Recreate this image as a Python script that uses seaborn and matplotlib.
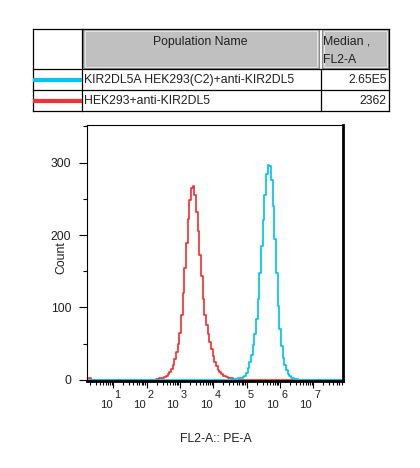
import numpy as np
import matplotlib
matplotlib.use("Agg")
import matplotlib.pyplot as plt
import matplotlib.transforms as mtransforms
from matplotlib.patches import Rectangle
from matplotlib.ticker import LogLocator, NullFormatter, MultipleLocator
import seaborn as sns

# ---------------- data ----------------
pop_names = ["KIR2DL5A HEK293(C2)+anti-KIR2DL5", "HEK293+anti-KIR2DL5"]
medians = ["2.65E5", "2362"]
colors = ["#00c4f2", "#f23232"]
decades = [1, 2, 3, 4, 5, 6, 7]
y_ticks = [0, 100, 200, 300]

bin_step = 0.05          # decades per histogram bin
grid_first = 0.25        # first bin centre (log10)
grid_last = 7.85

red_blip_start = 0.25
red_blip = [3, 2]
red_start = 2.30
red_counts = [1, 1, 2, 2, 3, 4, 6, 8, 11, 15, 21, 29, 38, 50, 65, 90, 120, 155,
              189, 222, 249, 265, 268, 256, 232, 205, 173, 143, 112, 90, 76, 64,
              52, 42, 33, 25, 19, 14, 11, 8, 6, 5, 4, 3, 2, 2, 1]
blue_start = 4.60
blue_counts = [1, 1, 1, 2, 2, 3, 4, 6, 10, 17, 25, 35, 48, 64, 84, 112, 148, 185,
               221, 256, 285, 297, 295, 276, 240, 194, 148, 102, 70, 47, 30, 20,
               13, 8, 5, 3, 2, 1, 1]

# ---------------- build bins ----------------
centers = np.round(np.arange(grid_first, grid_last + 1e-9, bin_step), 2)

def place(segments):
    arr = np.zeros(len(centers))
    for start, vals in segments:
        i0 = int(round((start - grid_first) / bin_step))
        arr[i0:i0 + len(vals)] = vals
    return arr

red_full = place([(red_blip_start, red_blip), (red_start, red_counts)])
blue_full = place([(blue_start, blue_counts)])

# ---------------- style ----------------
sns.set_theme(style="ticks")
plt.rcParams["font.family"] = ["Liberation Sans", "DejaVu Sans"]

W, H = 420, 468
fig = plt.figure(figsize=(W / 100, H / 100), dpi=100)
fig.patch.set_facecolor("white")

ax_l, ax_r, ax_t, ax_b = 86.7, 343.0, 125.0, 381.0
ax = fig.add_axes([ax_l / W, 1 - ax_b / H, (ax_r - ax_l) / W, (ax_b - ax_t) / H])

xs = 10 ** centers
sns.lineplot(x=xs, y=red_full, ax=ax, color=colors[1], lw=1.25,
             drawstyle="steps-mid", estimator=None, legend=False)
sns.lineplot(x=xs, y=blue_full, ax=ax, color=colors[0], lw=1.25,
             drawstyle="steps-mid", estimator=None, legend=False)

ax.set_xscale("log")
ax.set_xlim(10 ** 0.2, 10 ** 7.89)
ax.set_ylim(-1.5, 352)

ax.xaxis.set_major_locator(LogLocator(base=10, numticks=20))
ax.xaxis.set_minor_locator(LogLocator(base=10, subs=np.arange(2, 10), numticks=50))
ax.xaxis.set_major_formatter(NullFormatter())
ax.xaxis.set_minor_formatter(NullFormatter())
ax.set_yticks(y_ticks)
ax.yaxis.set_minor_locator(MultipleLocator(50))

ax.tick_params(axis="both", which="major", direction="out", length=5, width=0.8,
               color="black", labelsize=8.8, labelcolor="#202020", pad=5)
ax.tick_params(axis="both", which="minor", direction="out", length=3, width=0.8,
               color="black")
ax.tick_params(axis="y", which="major", length=6)

for side in ["left", "top"]:
    ax.spines[side].set_linewidth(0.8)
    ax.spines[side].set_color("black")
for side in ["right", "bottom"]:
    ax.spines[side].set_linewidth(2.0)
    ax.spines[side].set_color("black")
ax.set_xlabel("")
ax.set_ylabel("")

# decade labels: "10" plus near full-size superscript
trans = mtransforms.blended_transform_factory(ax.transData, ax.transAxes)
for n in decades:
    base_t = mtransforms.offset_copy(trans, fig=fig, x=-1.0, y=-18.5, units="dots")
    ax.text(10 ** n, 0, "10", transform=base_t, ha="right", va="top",
            fontsize=8.2, color="#202020")
    sup_t = mtransforms.offset_copy(trans, fig=fig, x=1.0, y=-9.0, units="dots")
    ax.text(10 ** n, 0, str(n), transform=sup_t, ha="left", va="top",
            fontsize=7.8, color="#202020")

fig.text(61 / W, 1 - 258 / H, "Count", rotation=90, ha="center", va="center",
         fontsize=8.8, color="#202020")
fig.text(216 / W, 1 - 439 / H, "FL2-A:: PE-A", ha="center", va="center",
         fontsize=8.8, color="#202020")

# ---------------- table ----------------
tab = fig.add_axes([0, 0, 1, 1], zorder=-1)
tab.set_xlim(0, W)
tab.set_ylim(H, 0)
tab.axis("off")

x0, x1, x2, x3 = 32.5, 81.7, 321.0, 389.0
y0, y1, y2, y3 = 28.5, 69.3, 90.0, 111.0

# header gray cells with bevel
for (cx0, cx1) in [(83.0, 318.5), (322.0, 388.0)]:
    tab.add_patch(Rectangle((cx0, y0 + 0.8), cx1 - cx0, y1 - y0 - 1.8,
                            facecolor="#c0c0c0", edgecolor="#8c8c8c", lw=0.8))
    tab.add_patch(Rectangle((cx0 + 1.5, y0 + 2.3), cx1 - cx0 - 3, y1 - y0 - 4.8,
                            facecolor="none", edgecolor="#e6e6e6", lw=0.7))

lk = dict(color="black", lw=0.9, solid_capstyle="projecting")
tab.plot([x0, x3], [y0, y0], **lk)
tab.plot([x0, x3], [y3, y3], **lk)
tab.plot([x0, x3], [y1, y1], **lk)
tab.plot([x0, x3], [y2, y2], **lk)
tab.plot([x0, x0], [y0, y3], **lk)
tab.plot([x3, x3], [y0, y3], **lk)
tab.plot([x1, x1], [y0, y3], **lk)
tab.plot([x2, x2], [y1, y3], **lk)

tab.text(200, 42, "Population Name", ha="center", va="center", fontsize=8.8,
         color="#202020")
tab.text(323, 42, "Median ,", ha="left", va="center", fontsize=8.8, color="#202020")
tab.text(323, 60, "FL2-A", ha="left", va="center", fontsize=8.8, color="#202020")

row_y = [79.8, 100.5]
for i in range(2):
    tab.plot([x0, x1], [row_y[i], row_y[i]], color=colors[i], lw=3.0,
             solid_capstyle="butt")
    tab.text(84, row_y[i], pop_names[i], ha="left", va="center", fontsize=8.8,
             color="#202020")
    tab.text(386.5, row_y[i], medians[i], ha="right", va="center", fontsize=8.8,
             color="#202020")

fig.savefig("out.png", dpi=100, facecolor="white")
